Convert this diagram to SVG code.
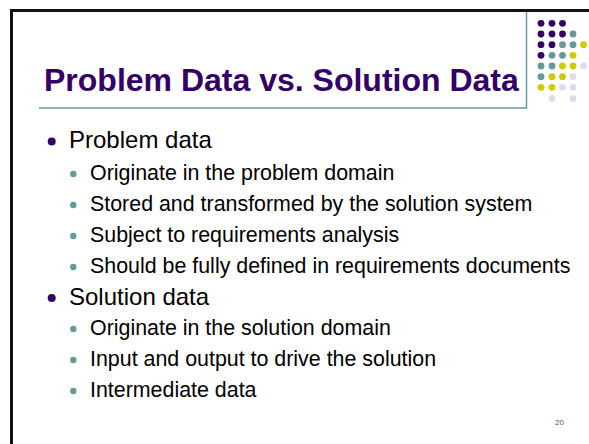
<svg xmlns="http://www.w3.org/2000/svg" width="589" height="444" viewBox="0 0 589 444">
<style>
.t{font-family:"Liberation Sans",Arial,sans-serif;fill:#000}
.title{font-family:"Liberation Sans",Arial,sans-serif;font-weight:bold;font-size:32px;fill:#330066}
.l1{font-size:24px}
.l2{font-size:21.4px}
.p{fill:#330066}.g{fill:#669999}.y{fill:#cccc00}.v{fill:#dcdcec}
</style>
<rect width="589" height="444" fill="#fff"/>
<g id="frame">
<line x1="10" y1="10.5" x2="589" y2="10.5" stroke="#111" stroke-width="3"/>
<line x1="11.5" y1="9" x2="11.5" y2="444" stroke="#111" stroke-width="3"/>
<line x1="39" y1="108" x2="527" y2="108" stroke="#669999" stroke-width="1.5"/>
<line x1="526.5" y1="12" x2="526.5" y2="108.5" stroke="#669999" stroke-width="1.5"/>
</g>
<g id="dots">
<circle class="p" cx="541" cy="23.3" r="3.4"/><circle class="p" cx="552" cy="23.3" r="3.4"/><circle class="p" cx="562.5" cy="23.3" r="3.4"/>
<circle class="p" cx="541" cy="34" r="3.4"/><circle class="p" cx="552" cy="34" r="3.4"/><circle class="p" cx="562.5" cy="34" r="3.4"/><circle class="g" cx="573" cy="34" r="3.4"/>
<circle class="p" cx="541" cy="44.7" r="3.4"/><circle class="p" cx="552" cy="44.7" r="3.4"/><circle class="g" cx="562.5" cy="44.7" r="3.4"/><circle class="g" cx="573" cy="44.7" r="3.4"/><circle class="y" cx="583.5" cy="44.7" r="3.4"/>
<circle class="p" cx="541" cy="55.3" r="3.4"/><circle class="g" cx="552" cy="55.3" r="3.4"/><circle class="g" cx="562.5" cy="55.3" r="3.4"/><circle class="y" cx="573" cy="55.3" r="3.4"/>
<circle class="g" cx="541" cy="66" r="3.4"/><circle class="g" cx="552" cy="66" r="3.4"/><circle class="y" cx="562.5" cy="66" r="3.4"/><circle class="y" cx="573" cy="66" r="3.4"/><circle class="v" cx="583.5" cy="66" r="3.4"/>
<circle class="g" cx="541" cy="76.7" r="3.4"/><circle class="y" cx="552" cy="76.7" r="3.4"/><circle class="y" cx="562.5" cy="76.7" r="3.4"/><circle class="v" cx="573" cy="76.7" r="3.4"/>
<circle class="y" cx="541" cy="87.3" r="3.4"/><circle class="y" cx="552" cy="87.3" r="3.4"/><circle class="v" cx="562.5" cy="87.3" r="3.4"/><circle class="v" cx="573" cy="87.3" r="3.4"/>
<circle class="v" cx="552" cy="98.5" r="3.4"/><circle class="v" cx="573" cy="98.5" r="3.4"/>
</g>
<g id="title"><text class="title" x="44" y="91">Problem Data vs. Solution Data</text></g>
<g id="body">
<circle cx="51.7" cy="141.5" r="4" fill="#330066"/>
<text class="t l1" x="69" y="148">Problem data</text>
<circle cx="73.3" cy="174" r="3.2" fill="#669999"/>
<text class="t l2" x="90" y="180">Originate in the problem domain</text>
<circle cx="73.3" cy="205" r="3.2" fill="#669999"/>
<text class="t l2" x="90" y="211">Stored and transformed by the solution system</text>
<circle cx="73.3" cy="236" r="3.2" fill="#669999"/>
<text class="t l2" x="90" y="242">Subject to requirements analysis</text>
<circle cx="73.3" cy="267" r="3.2" fill="#669999"/>
<text class="t l2" x="90" y="273">Should be fully defined in requirements documents</text>
<circle cx="51.7" cy="298" r="4" fill="#330066"/>
<text class="t l1" x="69" y="305">Solution data</text>
<circle cx="73.3" cy="329" r="3.2" fill="#669999"/>
<text class="t l2" x="90" y="335">Originate in the solution domain</text>
<circle cx="73.3" cy="360" r="3.2" fill="#669999"/>
<text class="t l2" x="90" y="366">Input and output to drive the solution</text>
<circle cx="73.3" cy="391" r="3.2" fill="#669999"/>
<text class="t l2" x="90" y="397">Intermediate data</text>
</g>
<g id="page"><text class="t" x="555" y="425" font-size="8" style="fill:#555">20</text></g>
</svg>
